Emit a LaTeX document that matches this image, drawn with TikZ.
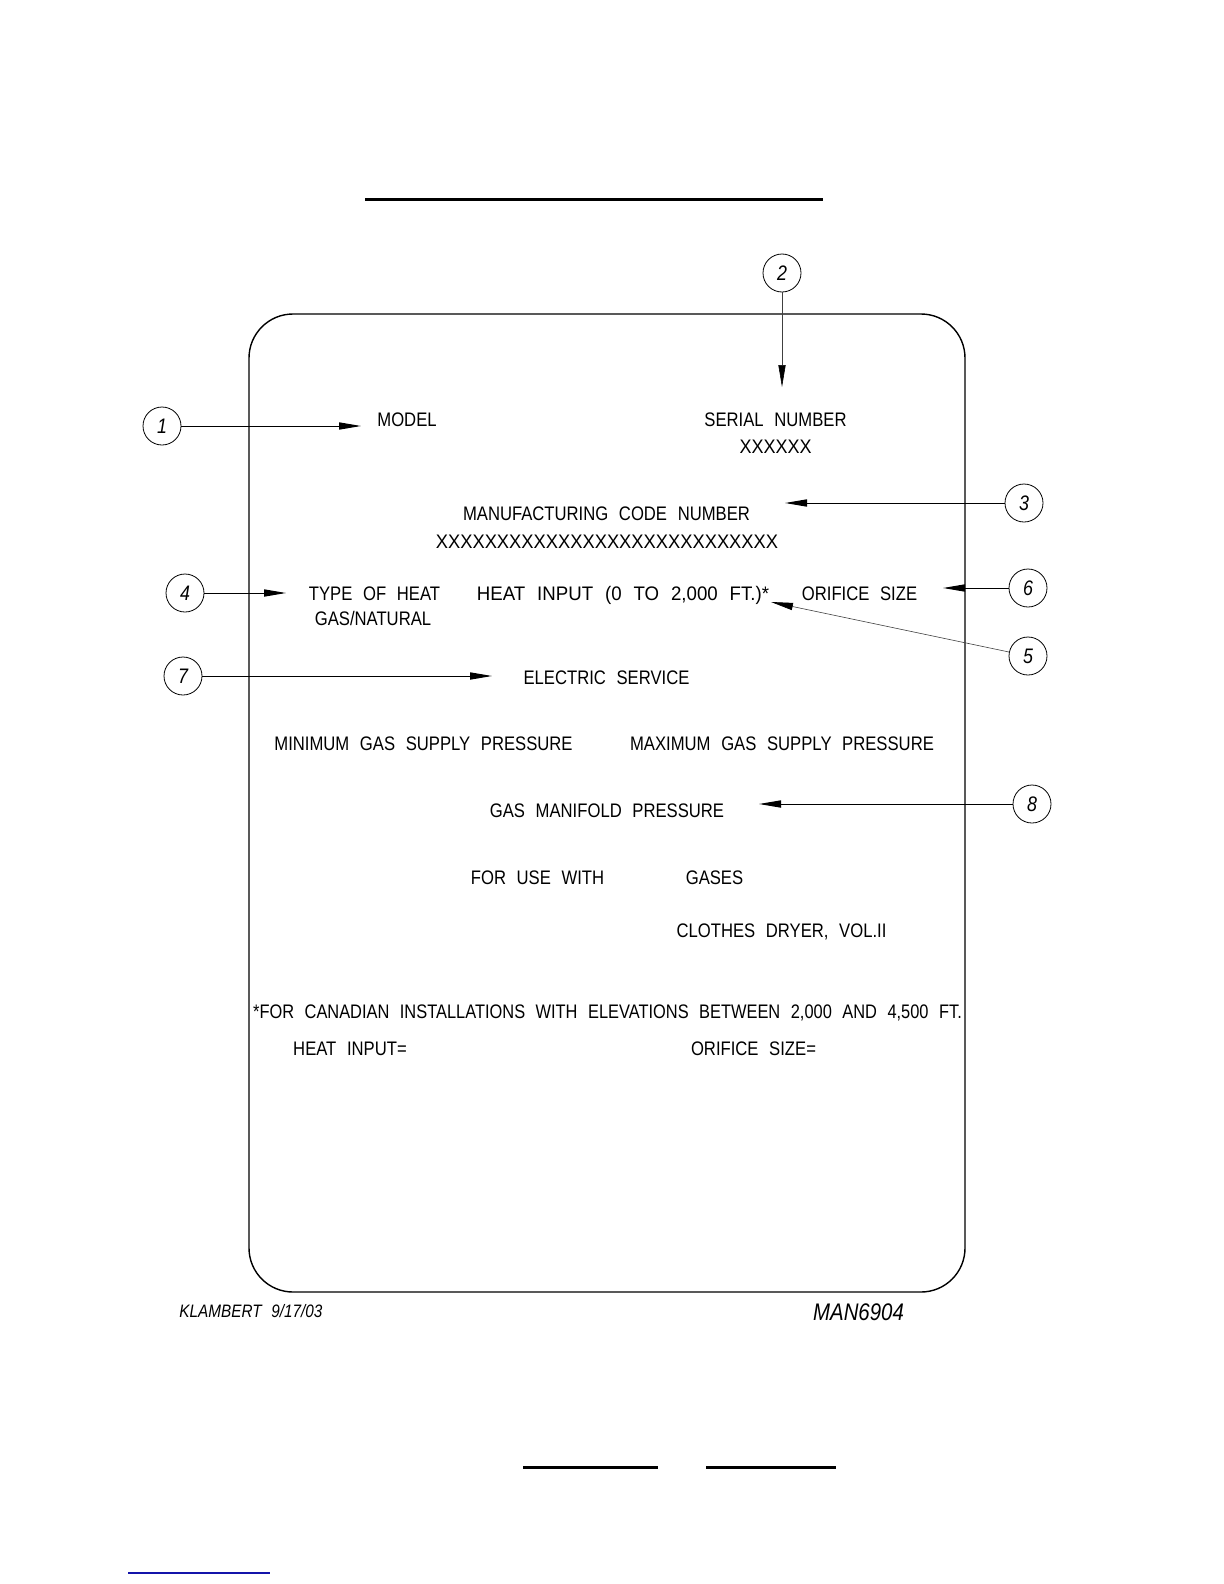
\documentclass[tikz,border=0pt]{standalone}
\usepackage{fontspec}
\setmainfont{Liberation Sans}[FakeStretch=0.85,WordSpace=2.3]
\usetikzlibrary{arrows.meta}
\definecolor{linkblue}{RGB}{20,20,170}
\newcommand{\widen}[2]{\scalebox{#1}[1]{#2}}
\begin{document}
\begin{tikzpicture}[x=0.5pt,y=-0.5pt,
  lbl/.style={anchor=base,inner sep=0pt,font=\fontsize{9.8pt}{11pt}\selectfont},
  callout/.style={circle,draw,line width=0.4pt,minimum size=19pt,inner sep=0pt,font=\fontsize{10.5pt}{11pt}\itshape},
  leader/.style={line width=0.5pt,-{Triangle[length=11pt,width=3.6pt]}},
  thinleader/.style={line width=0.3pt,draw=black!75,-{Triangle[length=11pt,width=3.6pt,color=black,fill=black]}},
  rule/.style={line width=1.5pt},
  plate/.style={draw,line width=0.7pt,rounded corners=22pt}]
\useasboundingbox (0,0) rectangle (1224,1584);
% page rules
\coordinate (r1a) at (365,199); \coordinate (r1b) at (823,199);
\draw[rule] (r1a) -- (r1b);
\coordinate (r2a) at (523,1467); \coordinate (r2b) at (658,1467);
\coordinate (r3a) at (706,1467); \coordinate (r3b) at (836,1467);
\draw[rule] (r2a) -- (r2b);
\draw[rule] (r3a) -- (r3b);
\coordinate (bla) at (128,1573); \coordinate (blb) at (270,1573);
\draw[linkblue,line width=0.7pt] (bla) -- (blb);
% plate
\draw[plate] (249,314) rectangle (965,1292);
% texts
\node[lbl] (model) at (407,426) {MODEL};
\node[lbl] (serial) at (775.5,426) {SERIAL NUMBER};
\node[lbl] (serialx) at (775.5,453) {\widen{1.08}{XXXXXX}};
\node[lbl] (mfg) at (606.5,520) {MANUFACTURING CODE NUMBER};
\node[lbl] (mfgx) at (607,548) {\widen{1.1}{XXXXXXXXXXXXXXXXXXXXXXXXXXXX}};
\node[lbl] (toh) at (374.5,600) {TYPE OF HEAT};
\node[lbl] (gasnat) at (373,625) {GAS/NATURAL};
\node[lbl] (hin) at (623,600) {\widen{1.12}{HEAT INPUT (0 TO 2,000 FT.)*}};
\node[lbl] (ori) at (859.5,600) {ORIFICE SIZE};
\node[lbl] (elec) at (606.5,684) {ELECTRIC SERVICE};
\node[lbl] (mingas) at (423.5,750) {MINIMUM GAS SUPPLY PRESSURE};
\node[lbl] (maxgas) at (782,750) {MAXIMUM GAS SUPPLY PRESSURE};
\node[lbl] (manif) at (607,817) {GAS MANIFOLD PRESSURE};
\node[lbl] (use) at (537.5,884) {FOR USE WITH};
\node[lbl] (gases) at (714.5,884) {GASES};
\node[lbl] (dryer) at (781.5,937) {CLOTHES DRYER, VOL.II};
\node[lbl] (canada) at (607.5,1018) {\widen{0.985}{*FOR CANADIAN INSTALLATIONS WITH ELEVATIONS BETWEEN 2,000 AND 4,500 FT.}};
\node[lbl] (hin2) at (350,1055) {HEAT INPUT=};
\node[lbl] (ori2) at (753.5,1055) {ORIFICE SIZE=};
\node[anchor=base,inner sep=0pt,font=\fontsize{9pt}{10pt}\itshape] (author) at (251,1317) {KLAMBERT 9/17/03};
\node[anchor=base,inner sep=0pt,font=\fontsize{12pt}{13pt}\itshape] (docno) at (858.5,1320) {MAN6904};
% callouts
\node[callout] (c1) at (162,426) {1};
\node[callout] (c2) at (782,273) {2};
\node[callout] (c3) at (1024,503) {3};
\node[callout] (c4) at (185,593) {4};
\node[callout] (c5) at (1028,656) {5};
\node[callout] (c6) at (1028,588) {6};
\node[callout] (c7) at (183,676) {7};
\node[callout] (c8) at (1032,804) {8};
% arrow tips
\coordinate (t1) at (361,426);
\coordinate (t2) at (782,387);
\coordinate (t3) at (785,503);
\coordinate (t4) at (286,593);
\coordinate (t5) at (771,602);
\coordinate (t6) at (943,588);
\coordinate (t7) at (492,676);
\coordinate (t8) at (759,804);
\draw[leader] (c1) -- (t1);
\draw[thinleader] (c2) -- (t2);
\draw[leader] (c3) -- (t3);
\draw[leader] (c4) -- (t4);
\draw[thinleader] (c5) -- (t5);
\draw[leader] (c6) -- (t6);
\draw[leader] (c7) -- (t7);
\draw[leader] (c8) -- (t8);
\end{tikzpicture}
\end{document}
